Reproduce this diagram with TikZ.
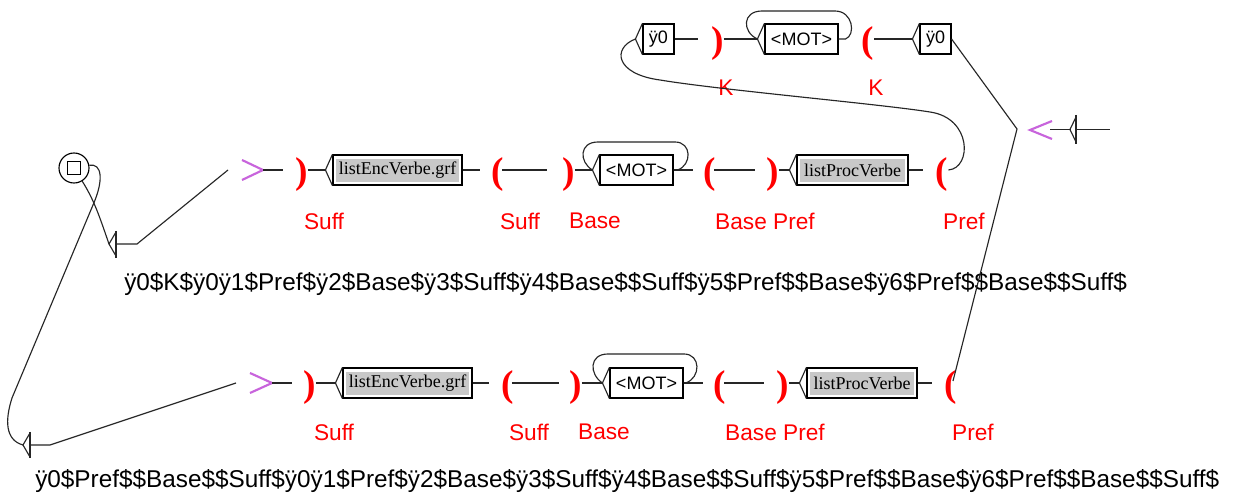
\documentclass[tikz,border=0pt]{standalone}
\usepackage{fontspec}
\setmainfont{Liberation Sans}
\newfontfamily\serifbox{Liberation Serif}
\newfontfamily\outtext{Liberation Sans}
\definecolor{parred}{RGB}{255,0,0}
\definecolor{ctxviolet}{RGB}{200,100,220}
\definecolor{subgray}{RGB}{200,200,200}
\begin{document}
\begin{tikzpicture}[x=0.75pt,y=-0.75pt,
  ln/.style={line width=0.85pt, black!85},
  ubox/.style={draw, line width=0.85pt, fill=white, inner sep=0pt, minimum height=22.5pt, font=\fontsize{13.5}{15}\selectfont},
  gbox/.style={ubox, font=\serifbox\fontsize{13.5}{15}\selectfont, path picture={\fill[subgray] ([shift={(2.25pt,-3pt)}]path picture bounding box.north west) rectangle ([shift={(-2.25pt,2.5pt)}]path picture bounding box.south east);}},
  par/.style={text=parred, font=\serifbox\bfseries\fontsize{28}{30}\selectfont, inner sep=0pt},
  lab/.style={text=parred, font=\fontsize{17}{19}\selectfont, inner sep=0pt},
  chev/.style={draw=ctxviolet, line width=1.6pt},
  outs/.style={inner sep=0pt, font=\outtext\fontsize{18.75}{20}\selectfont},
]
\fill[white] (0,0) rectangle (1233,495);
\useasboundingbox (0,0) rectangle (1233,495);

% ---------- top row ----------
\node[ubox, minimum width=23.25pt] (tYL) at (658.5,39) {ÿ0};
\node[par] (tK1) at (717.5,43.5) {)};
\node[ubox, minimum width=54.75pt] (tMot) at (801.5,39) {<MOT>};
\node[par] (tK2) at (868,44) {(};
\node[ubox, minimum width=23.25pt] (tYR) at (935.5,39) {ÿ0};
\node[lab] (lK1) at (726,88) {K};
\node[lab] (lK2) at (876,88) {K};

\draw[ln] (tYL.north west) -- ([xshift=-5.25pt]tYL.west) -- (tYL.south west);
\draw[ln] (tMot.north west) -- ([xshift=-5.25pt]tMot.west) -- (tMot.south west);
\draw[ln] (tYR.north west) -- ([xshift=-5.25pt]tYR.west) -- (tYR.south west);

\draw[ln] (tYL.east) -- ++(23,0);
\draw[ln] (tK1.east |- tMot.west) -- ([xshift=-5.25pt]tMot.west);
\draw[ln] (tMot.east) -- ++(7,0) .. controls (856,35) and (853,11) .. (835,11) -- (762,11) .. controls (742,11) and (742,32) .. ([xshift=-5.25pt]tMot.west);
\draw[ln] (tK2.east |- tYR.west) -- ([xshift=-5.25pt]tYR.west);

% ---------- middle row ----------
\node[par] (mS1) at (301.5,175) {)};
\node[gbox, minimum width=96.75pt] (mEnc) at (397.5,170) {listEncVerbe.grf};
\node[par] (mS2) at (498,175) {(};
\node[par] (mB1) at (568.5,175) {)};
\node[ubox, minimum width=54.75pt] (mMot) at (636.5,170) {<MOT>};
\node[par] (mB2) at (710,175) {(};
\node[par] (mP1) at (772.5,175) {)};
\node[gbox, minimum width=83.25pt] (mProc) at (852.5,170) {listProcVerbe};
\node[par] (mP2) at (942,175) {(};

\node[lab] at (324,221) {Suff};
\node[lab] at (520,221) {Suff};
\node[lab] at (595,221) {Base};
\node[lab] at (765,221) {Base Pref};
\node[lab] at (964,221) {Pref};

\draw[ln] (mEnc.north west) -- ([xshift=-5.25pt]mEnc.west) -- (mEnc.south west);
\draw[ln] (mMot.north west) -- ([xshift=-5.25pt]mMot.west) -- (mMot.south west);
\draw[ln] (mProc.north west) -- ([xshift=-5.25pt]mProc.west) -- (mProc.south west);

\coordinate (mGt) at (263,170);
\draw[chev] (242,160) -- (mGt) -- (242,180);
\draw[ln] (mGt) -- ++(20,0);
\draw[ln] (mS1.east |- mEnc.west) -- ([xshift=-5.25pt]mEnc.west);
\draw[ln] (mEnc.east) -- ++(17,0);
\draw[ln] ([xshift=-1.5pt]mS2.east |- mEnc.west) -- ++(45,0);
\draw[ln] (mB1.east |- mMot.west) -- ([xshift=-5.25pt]mMot.west);
\draw[ln] (mMot.east) -- ++(19,0);
\draw[ln] (mMot.east) -- ++(4,0) .. controls (692,165) and (692,142) .. (675,142) -- (598,142) .. controls (579,142) and (579,162) .. ([xshift=-5.25pt]mMot.west);
\draw[ln] ([xshift=-1.5pt]mB2.east |- mMot.west) -- ++(41,0);
\draw[ln] (mP1.east |- mProc.west) -- ([xshift=-5.25pt]mProc.west);
\draw[ln] (mProc.east) -- ++(14,0);

% middle output
\coordinate (mGtL) at (228,170);
\coordinate (mBend) at (137,244);
\coordinate (mBar) at (116,244);
\coordinate (mTip) at (109,244);
\draw[ln] (mGtL) -- (mBend) -- (mBar);
\draw[ln] (116,231) -- (116,258);
\draw[ln] (116,232) -- (mTip) -- (116,256);
\node[outs, anchor=base west] (mOutTxt) at (124,291) {\resizebox{752pt}{!}{ÿ0\$K\$ÿ0ÿ1\$Pref\$ÿ2\$Base\$ÿ3\$Suff\$ÿ4\$Base\$\$Suff\$ÿ5\$Pref\$\$Base\$ÿ6\$Pref\$\$Base\$\$Suff\$}};

% ---------- bottom row ----------
\node[par] (bS1) at (309.5,387.5) {)};
\node[gbox, minimum width=96.75pt] (bEnc) at (407.5,383) {listEncVerbe.grf};
\node[par] (bS2) at (507.5,387.5) {(};
\node[par] (bB1) at (575.5,387.5) {)};
\node[ubox, minimum width=54.75pt] (bMot) at (646.5,383) {<MOT>};
\node[par] (bB2) at (720,387.5) {(};
\node[par] (bP1) at (782.5,387.5) {)};
\node[gbox, minimum width=82.5pt] (bProc) at (862,383) {listProcVerbe};
\node[par] (bP2) at (950.5,387.5) {(};

\node[lab] at (334,432) {Suff};
\node[lab] at (529,432) {Suff};
\node[lab] at (604,432) {Base};
\node[lab] at (775,432) {Base Pref};
\node[lab] at (973,432) {Pref};

\draw[ln] (bEnc.north west) -- ([xshift=-5.25pt]bEnc.west) -- (bEnc.south west);
\draw[ln] (bMot.north west) -- ([xshift=-5.25pt]bMot.west) -- (bMot.south west);
\draw[ln] (bProc.north west) -- ([xshift=-5.25pt]bProc.west) -- (bProc.south west);

\coordinate (bGt) at (272,383);
\draw[chev] (250,373) -- (bGt) -- (250,393);
\draw[ln] (bGt) -- ++(20,0);
\draw[ln] (bS1.east |- bEnc.west) -- ([xshift=-5.25pt]bEnc.west);
\draw[ln] (bEnc.east) -- ++(16,0);
\draw[ln] ([xshift=-1.5pt]bS2.east |- bEnc.west) -- ++(47,0);
\draw[ln] (bB1.east |- bMot.west) -- ([xshift=-5.25pt]bMot.west);
\draw[ln] (bMot.east) -- ++(19,0);
\draw[ln] (bMot.east) -- ++(2,0) .. controls (701,378) and (701,354) .. (684,354) -- (608,354) .. controls (589,354) and (589,374) .. ([xshift=-5.25pt]bMot.west);
\draw[ln] ([xshift=-1.5pt]bB2.east |- bMot.west) -- ++(40,0);
\draw[ln] (bP1.east |- bProc.west) -- ([xshift=-5.25pt]bProc.west);
\draw[ln] (bProc.east) -- ++(14,0);

% bottom output
\coordinate (bGtL) at (236,383);
\coordinate (bBend) at (50,445);
\coordinate (bBar) at (30,445);
\coordinate (bTip) at (23,445);
\draw[ln] (bGtL) -- (bBend) -- (bBar);
\draw[ln] (30,432) -- (30,458);
\draw[ln] (30,433) -- (bTip) -- (30,457);
\node[outs, anchor=base west] (bOutTxt) at (35,488) {\resizebox{888pt}{!}{ÿ0\$Pref\$\$Base\$\$Suff\$ÿ0ÿ1\$Pref\$ÿ2\$Base\$ÿ3\$Suff\$ÿ4\$Base\$\$Suff\$ÿ5\$Pref\$\$Base\$ÿ6\$Pref\$\$Base\$\$Suff\$}};

% ---------- final state ----------
\node[circle, draw, line width=0.85pt, minimum size=22.5pt, inner sep=0pt] (fin) at (74,168) {};
\node[draw, line width=0.85pt, minimum size=9.75pt, inner sep=0pt] (finsq) at (74,168) {};
\draw[ln] (mTip) .. controls (99,215) and (94,200) .. (fin.-58);
\draw[ln] (bTip) .. controls (5,440) and (5,420) .. (12,398) -- (93,205) .. controls (104,180) and (102,163) .. (fin.10);

% ---------- long curve top -> middle ----------
\draw[ln] ([xshift=-5.25pt]tYL.west) .. controls (612,48) and (615,74) .. (660,80) .. controls (720,90) and (880,104) .. (930,112) .. controls (972,118) and (972,168) .. (mP2.east |- mProc.east);

% ---------- right side ----------
\coordinate (vtx) at (1017,129);
\draw[ln] (tYR.east) -- (vtx) -- (953,381);
\coordinate (ltTip) at (1030,130);
\draw[chev] (1052,121) -- (ltTip) -- (1052,139);
\coordinate (initTip) at (1070,129.5);
\draw[ln] (1050,129.5) -- (initTip);
\draw[ln] (1076,117) -- (initTip) -- (1076,142);
\draw[ln] (1076,115) -- (1076,144);
\draw[ln] (1076,129.5) -- (1110,129.5);
\end{tikzpicture}
\end{document}
